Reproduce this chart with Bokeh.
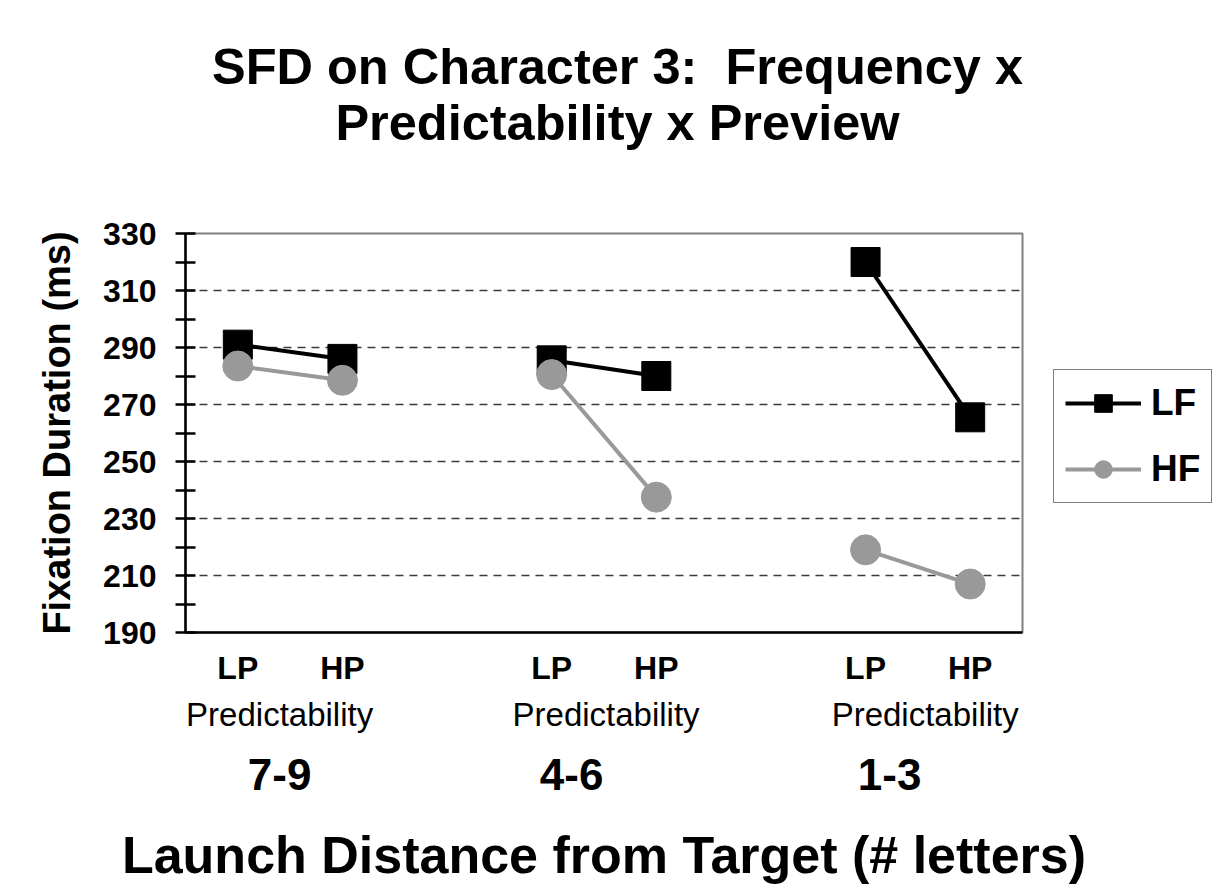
from bokeh.plotting import figure
from bokeh.models import (FixedTicker, LinearAxis, Legend, LegendItem, Range1d,
                          ColumnDataSource, Div)
from bokeh.layouts import column
from bokeh.embed import file_html
from bokeh.resources import INLINE

# ---- data ----
distances = ["7-9", "4-6", "1-3"]
predictability = ["LP", "HP"]
pred_word = "Predictability"
lf_values = [291, 286, 285.5, 280, 320, 265.5]
hf_values = [283.5, 278.5, 280.5, 237.5, 219, 207]
y_ticks = [190, 210, 230, 250, 270, 290, 310, 330]
series_names = ["LF", "HF"]
title_lines = ["SFD on Character 3:\u00a0 Frequency x", "Predictability x Preview"]
y_label = "Fixation Duration (ms)"
x_label = "Launch Distance from Target (# letters)"

# ---- layout / style constants ----
FONT = "Liberation Sans"
GRAY = "#999999"
dist_label_nudge = [-0.1, -0.31, -0.27]     # slight left shift of the group labels (slot units)
pred_label_nudge = [-0.1, 0.02, 0.07]

# category slots: each distance group has its predictability levels plus one empty slot
slots = len(predictability) + 1
n_groups = len(distances)
x_pos = [g * slots + i + 0.5 for g in range(n_groups) for i in range(len(predictability))]
group_centers = [g * slots + len(predictability) / 2 for g in range(n_groups)]
x_end = n_groups * slots - 1

def split(vals):
    k = len(predictability)
    return [vals[g * k:(g + 1) * k] for g in range(n_groups)]

xs_groups = split(x_pos)

FRAME_W, FRAME_H = 837, 399
TITLE_H = 150
p = figure(frame_width=FRAME_W, frame_height=FRAME_H, x_range=Range1d(0, x_end),
           y_range=Range1d(y_ticks[0], y_ticks[-1]),
           output_backend="svg", toolbar_location=None, x_axis_location=None, title=None,
           min_border_left=185, min_border_right=185, min_border_top=233 - TITLE_H,
           min_border_bottom=245)
p.background_fill_color = "white"
p.border_fill_color = "white"
p.outline_line_color = "#808080"
p.outline_line_width = 2

# y axis
yax = p.yaxis[0]
yax.ticker = FixedTicker(ticks=y_ticks, minor_ticks=[t + 10 for t in y_ticks[:-1]])
yax.axis_line_width = 2.5
yax.axis_line_color = "black"
yax.major_tick_line_width = 2.5
yax.minor_tick_line_width = 2.5
yax.major_tick_in = 10
yax.major_tick_out = 10
yax.minor_tick_in = 10
yax.minor_tick_out = 10
yax.major_label_standoff = 19
yax.major_label_text_font = FONT
yax.major_label_text_font_style = "bold"
yax.major_label_text_font_size = "32px"
yax.major_label_text_color = "black"
yax.axis_label = y_label
yax.axis_label_text_font = FONT
yax.axis_label_text_font_style = "bold"
yax.axis_label_text_font_size = "38px"
yax.axis_label_text_color = "black"
yax.axis_label_standoff = 22

p.xgrid.visible = False
p.ygrid.ticker = FixedTicker(ticks=y_ticks[1:-1])
p.ygrid.grid_line_color = "#3a3a3a"
p.ygrid.grid_line_dash = "8 6"
p.ygrid.grid_line_width = 1.3

# x axes (three stacked rows)
def make_axis(ticks, labels, size, style, standoff, line=False):
    ax = LinearAxis(ticker=FixedTicker(ticks=ticks, minor_ticks=[]),
                    major_label_overrides={t: l for t, l in zip(ticks, labels)})
    ax.major_tick_in = 0
    ax.major_tick_out = 0
    ax.minor_tick_in = 0
    ax.minor_tick_out = 0
    ax.major_tick_line_color = None
    ax.minor_tick_line_color = None
    ax.major_label_text_font = FONT
    ax.major_label_text_font_style = style
    ax.major_label_text_font_size = size
    ax.major_label_text_color = "black"
    ax.major_label_standoff = standoff
    if line:
        ax.axis_line_color = "black"
        ax.axis_line_width = 2.5
    else:
        ax.axis_line_color = None
    return ax

pred_ticks = [c + d for c, d in zip(group_centers, pred_label_nudge)]
dist_ticks = [c + d for c, d in zip(group_centers, dist_label_nudge)]
ax1 = make_axis(x_pos, predictability * n_groups, "32px", "bold", 17, line=True)
ax2 = make_axis(pred_ticks, [pred_word] * n_groups, "33px", "normal", 7)
ax3 = make_axis(dist_ticks, distances, "44px", "bold", 23)
ax3.axis_label = x_label
ax3.axis_label_text_font = FONT
ax3.axis_label_text_font_style = "bold"
ax3.axis_label_text_font_size = "52px"
ax3.axis_label_text_color = "black"
ax3.axis_label_standoff = 33
p.add_layout(ax1, "below")
p.add_layout(ax2, "below")
p.add_layout(ax3, "below")

# data
lf_src = ColumnDataSource(dict(xs=xs_groups, ys=split(lf_values)))
hf_src = ColumnDataSource(dict(xs=xs_groups, ys=split(hf_values)))
lf_line = p.multi_line("xs", "ys", source=lf_src, line_color="black", line_width=4)
lf_pts = p.scatter(x_pos, lf_values, marker="square", size=29, fill_color="black", line_color="black")
hf_line = p.multi_line("xs", "ys", source=hf_src, line_color=GRAY, line_width=4)
hf_pts = p.scatter(x_pos, hf_values, marker="circle", size=30, fill_color=GRAY, line_color=GRAY)

legend = Legend(items=[LegendItem(label=series_names[0], renderers=[lf_line, lf_pts]),
                       LegendItem(label=series_names[1], renderers=[hf_line, hf_pts])],
                location=(31, 129), margin=0, padding=11, spacing=22,
                glyph_width=76, glyph_height=44, label_height=44, label_standoff=10,
                label_text_font=FONT, label_text_font_style="bold", label_text_font_size="37px",
                label_text_color="black", border_line_color="black", border_line_width=1.5,
                background_fill_color="white")
p.add_layout(legend, "right")

# title as centered two-line text block above the plot
title_html = ('<div style="width:1207px;box-sizing:border-box;padding-top:39px;padding-left:28px;'
              'text-align:center;font-family:\'Liberation Sans\';font-weight:bold;font-size:50.5px;'
              'line-height:56px;color:black;">' + "<br>".join(title_lines) + '</div>')
title_div = Div(text=title_html, width=1207, height=TITLE_H, margin=0,
                styles={"box-shadow": "-2px 0 0 0 black, 0 -2px 0 0 black"})

layout = column(title_div, p, spacing=0)

open("out.html", "w").write(file_html(layout, INLINE))
